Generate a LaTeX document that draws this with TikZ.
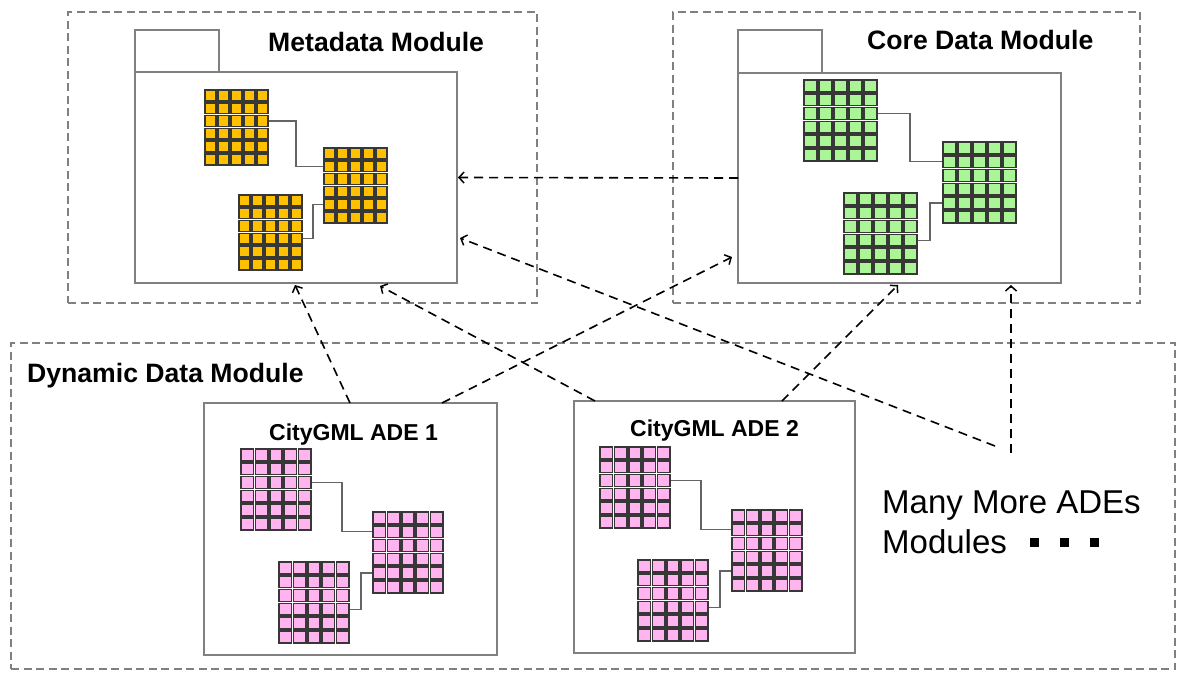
\documentclass[tikz,border=0pt]{standalone}
\usepackage{fontspec}
\setmainfont{Liberation Sans}
\usetikzlibrary{arrows.meta,calc}
\definecolor{cgray}{RGB}{128,128,128}
\definecolor{corange}{RGB}{255,192,0}
\definecolor{cgreen}{RGB}{170,245,150}
\definecolor{cpink}{RGB}{255,180,240}
\definecolor{cborder}{RGB}{55,55,55}
\definecolor{clink}{RGB}{100,100,100}
\tikzset{
  cellbox/.style={draw=cborder,line width=1.5pt},
  tlink/.style={draw=clink,line width=1.3pt},
  solidbox/.style={draw=cgray,line width=2.4pt,inner sep=0pt,outer sep=0pt},
  dashbox/.style={draw=cgray,line width=2.3pt,dash pattern=on 8pt off 4.5pt,inner sep=0pt,outer sep=0pt},
  dep/.style={draw=black,line width=1.6pt,dash pattern=on 9pt off 6pt,-{Straight Barb[length=5pt,width=11pt,line width=1.5pt]}},
  titletext/.style={inner sep=0pt,font=\fontsize{26.6}{30}\selectfont\bfseries},
  adetext/.style={inner sep=0pt,font=\fontsize{23}{28}\selectfont\bfseries}
}
\newcommand\dtable[6]{%
  \foreach \ii in {0,...,5}{\foreach \jj in {0,...,4}{
    \draw[cellbox,fill=#6] (#2+\jj*#4+1.0,#3+\ii*#5+1.0) rectangle (#2+\jj*#4+#4-1.0,#3+\ii*#5+#5-1.0);
  }}
  \coordinate (#1-r2) at (#2+5*#4,#3+2.5*#5);
  \coordinate (#1-r3) at (#2+5*#4,#3+3.5*#5);
  \coordinate (#1-l1) at (#2,#3+1.5*#5);
  \coordinate (#1-l4) at (#2,#3+4.5*#5);
}
\newcommand\dlinks[3]{%
  \draw[tlink] (#1-r2) -| ($(#1-r2)!.5!(#2-l1)$) |- (#2-l1);
  \draw[tlink] (#3-r3) -| ($(#3-r3)!.5!(#2-l4)$) |- (#2-l4);
}
\begin{document}
\begin{tikzpicture}[x=1pt,y=-1pt]
\useasboundingbox (0,0) rectangle (1187,689);
\fill[white] (0,0) rectangle (1187,689);

% outer dashed module frames
\node[dashbox,minimum width=469pt,minimum height=291pt,anchor=north west] (metao) at (68,12) {};
\node[dashbox,minimum width=467pt,minimum height=291pt,anchor=north west] (coreo) at (673,12) {};
\node[dashbox,minimum width=1164pt,minimum height=326pt,anchor=north west] (dyno) at (11,343) {};

% folders
\node[solidbox,minimum width=322pt,minimum height=211pt,anchor=north west] (metab) at (135,72) {};
\node[solidbox,minimum width=84pt,minimum height=42pt,anchor=south west] (metatab) at (135,72) {};
\node[solidbox,minimum width=323pt,minimum height=210pt,anchor=north west] (coreb) at (738,73) {};
\node[solidbox,minimum width=84pt,minimum height=43pt,anchor=south west] (coretab) at (738,73) {};

% ADE boxes
\node[solidbox,minimum width=293pt,minimum height=252pt,anchor=north west] (ade1) at (204,403) {};
\node[solidbox,minimum width=281pt,minimum height=252pt,anchor=north west] (ade2) at (574,401) {};

% titles
\node[titletext,anchor=base west] (metal) at (268,51) {Metadata Module};
\node[titletext,anchor=base west] (corel) at (867,49) {Core Data Module};
\node[titletext,anchor=base west] (dynl) at (27,382) {Dynamic Data Module};
\node[adetext,anchor=base west] (ade1l) at (269,440) {CityGML ADE 1};
\node[adetext,anchor=base west] (ade2l) at (630,436) {CityGML ADE 2};
\node[inner sep=0pt,anchor=base west,align=left,font=\fontsize{33}{40}\selectfont] (more) at (882,553)
  {Many More ADEs\\Modules\hspace{23pt}\rule[6pt]{9pt}{9pt}\hspace{21pt}\rule[6pt]{9pt}{9pt}\hspace{21pt}\rule[6pt]{9pt}{9pt}};

% metadata tables
\dtable{mA}{204}{89}{13}{12.8}{corange}
\dtable{mB}{323}{147}{13}{12.8}{corange}
\dtable{mC}{238}{194}{13}{12.8}{corange}
\dlinks{mA}{mB}{mC}

% core tables
\dtable{cA}{803}{79}{15}{13.8}{cgreen}
\dtable{cB}{942}{141}{15}{13.8}{cgreen}
\dtable{cC}{843}{192}{15}{13.8}{cgreen}
\dlinks{cA}{cB}{cC}

% ADE 1 tables
\dtable{pA}{240}{448}{14.4}{13.8}{cpink}
\dtable{pB}{372}{511}{14.4}{13.8}{cpink}
\dtable{pC}{278}{561}{14.4}{13.8}{cpink}
\dlinks{pA}{pB}{pC}

% ADE 2 tables
\dtable{qA}{599}{446}{14.4}{13.8}{cpink}
\dtable{qB}{731}{509}{14.4}{13.8}{cpink}
\dtable{qC}{637}{559}{14.4}{13.8}{cpink}
\dlinks{qA}{qB}{qC}

% dependency arrows
\coordinate (a3s) at (442,403);
\coordinate (a3e) at (732,257);
\coordinate (a4s) at (595,401);
\coordinate (a4e) at (380,286);
\coordinate (a5s) at (782,401);
\coordinate (a5e) at (898,285);
\coordinate (a6s) at (995,446);
\coordinate (a6e) at (460,238);
\coordinate (a7s) at (1011,453);
\coordinate (a7e) at (1011,285);
\coordinate (a2s) at (350,403);
\coordinate (a2e) at (295,285);

\draw[dep] (coreb.west) -- ([xshift=1pt]metab.east);
\draw[dep] (a2s) -- (a2e);
\draw[dep] (a3s) -- (a3e);
\draw[dep] (a4s) -- (a4e);
\draw[dep] (a5s) -- (a5e);
\draw[dep] (a6s) -- (a6e);
\draw[dep] (a7s) -- (a7e);
\end{tikzpicture}
\end{document}
